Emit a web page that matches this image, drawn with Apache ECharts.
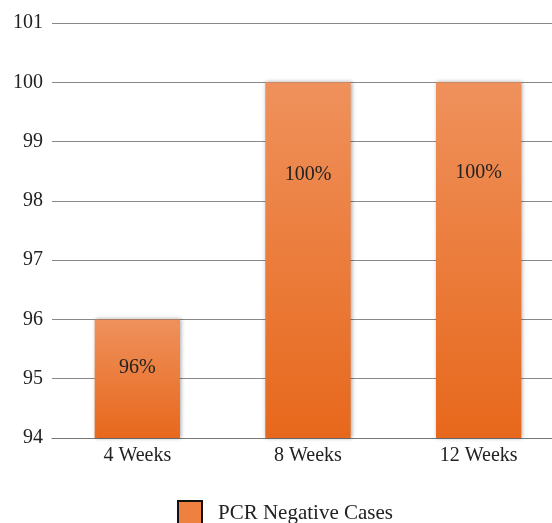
<!DOCTYPE html>
<html>
<head>
<meta charset="utf-8">
<script src="https://cdn.jsdelivr.net/npm/echarts@6/dist/echarts.min.js"></script>
<style>
  html, body { margin: 0; padding: 0; background: #fff; }
  #chart { width: 552px; height: 523px; }
</style>
</head>
<body>
<div id="chart"></div>
<script>
// Share of PCR-negative cases at each follow-up point
const categories = ['4 Weeks', '8 Weeks', '12 Weeks'];
const pcrNegative = [96, 100, 100];
const labelDistances = [38, 82, 80];

const FONT = '"Liberation Serif", "Times New Roman", serif';

const barFill = new echarts.graphic.LinearGradient(0, 0, 0, 1, [
  { offset: 0, color: '#EF915C' },
  { offset: 1, color: '#E7681C' }
]);

const chart = echarts.init(document.getElementById('chart'));
chart.setOption({
  animation: false,
  grid: {
    left: 52, width: 512, top: 23, height: 415,
    containLabel: false, outerBoundsMode: 'none'
  },
  legend: {
    top: 500,
    left: 177,
    padding: 0,
    icon: 'rect',
    itemWidth: 24,
    itemHeight: 24,
    textStyle: { fontFamily: FONT, fontSize: 21, color: '#222', padding: [0, 0, 0, 11] },
    data: [{
      name: 'PCR Negative Cases',
      itemStyle: { color: '#EE8040', borderColor: '#111', borderWidth: 2 }
    }]
  },
  xAxis: {
    type: 'category',
    data: categories,
    axisTick: { show: false },
    axisLine: { lineStyle: { color: '#777', width: 1 } },
    axisLabel: { fontFamily: FONT, fontSize: 20, color: '#222', margin: 8 }
  },
  yAxis: {
    type: 'value',
    min: 94,
    max: 101,
    interval: 1,
    axisLine: { show: false },
    axisTick: { show: false },
    axisLabel: { fontFamily: FONT, fontSize: 20, color: '#222', margin: 9 },
    splitLine: { lineStyle: { color: '#888', width: 1 } }
  },
  series: [{
    name: 'PCR Negative Cases',
    type: 'bar',
    barWidth: '50%',
    data: pcrNegative.map((v, i) => ({
      value: v,
      label: { distance: labelDistances[i] }
    })),
    itemStyle: {
      color: barFill,
      shadowColor: 'rgba(0,0,0,0.35)',
      shadowBlur: 4,
      shadowOffsetX: 1
    },
    label: {
      show: true,
      position: 'insideTop',
      formatter: p => p.value + '%',
      fontFamily: FONT,
      fontSize: 20,
      color: '#222'
    }
  }]
});
</script>
</body>
</html>
